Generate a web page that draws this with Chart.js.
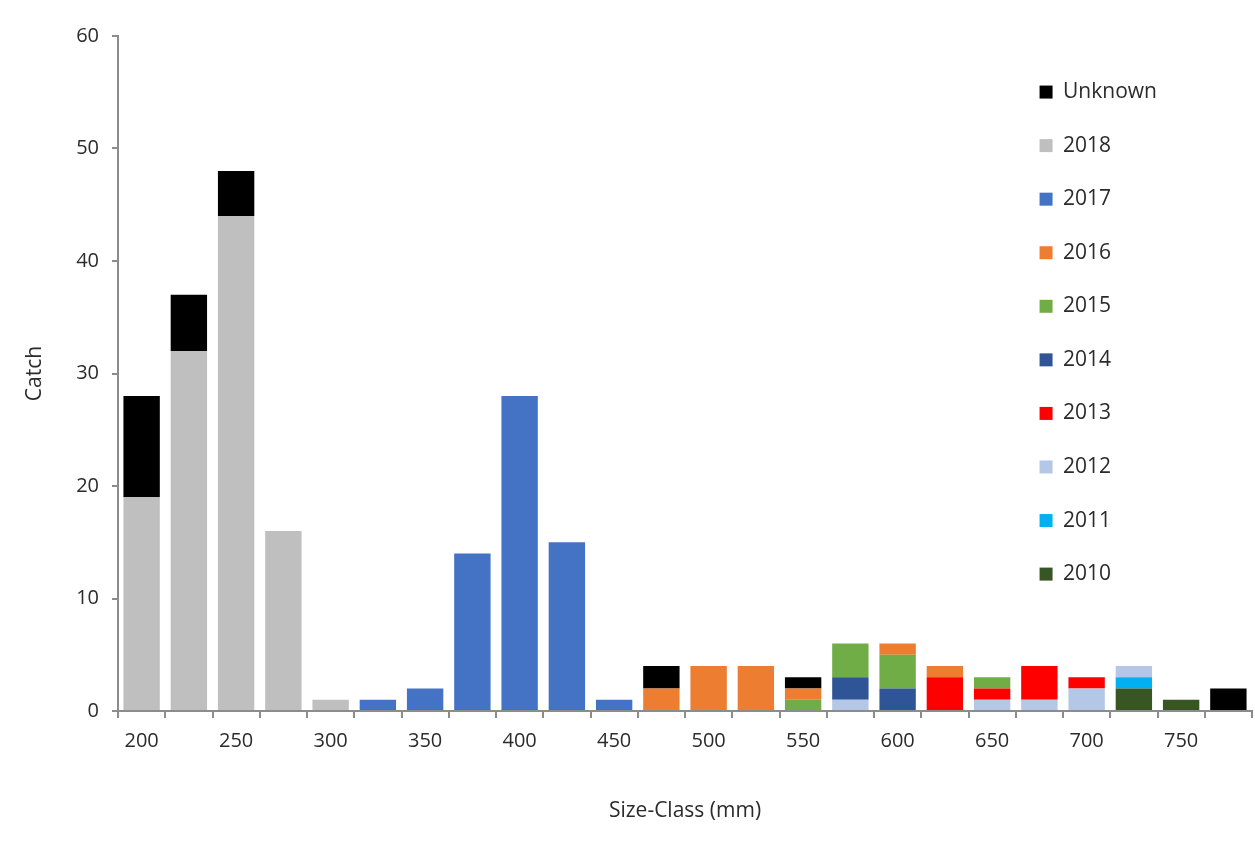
<!DOCTYPE html>
<html>
<head>
<meta charset="utf-8">
<title>Catch by Size-Class</title>
<script src="https://cdn.jsdelivr.net/npm/chart.js@4/dist/chart.umd.min.js"></script>
<style>
  html, body { margin: 0; padding: 0; background: #ffffff; }
  #wrap { width: 1255px; height: 858px; position: relative; }
</style>
</head>
<body>
<div id="wrap"><canvas id="chart"></canvas></div>
<script>
// ---- Data ----
const sizeClasses = ['200','225','250','275','300','325','350','375','400','425','450','475',
                     '500','525','550','575','600','625','650','675','700','725','750','775'];
const tickLabels = ['200','250','300','350','400','450','500','550','600','650','700','750'];
const yTicks = [0, 10, 20, 30, 40, 50, 60];

const y2010    = [0,0,0,0,0,0,0,0,0,0,0,0,0,0,0,0,0,0,0,0,0,2,1,0];
const y2011    = [0,0,0,0,0,0,0,0,0,0,0,0,0,0,0,0,0,0,0,0,0,1,0,0];
const y2012    = [0,0,0,0,0,0,0,0,0,0,0,0,0,0,0,1,0,0,1,1,2,1,0,0];
const y2013    = [0,0,0,0,0,0,0,0,0,0,0,0,0,0,0,0,0,3,1,3,1,0,0,0];
const y2014    = [0,0,0,0,0,0,0,0,0,0,0,0,0,0,0,2,2,0,0,0,0,0,0,0];
const y2015    = [0,0,0,0,0,0,0,0,0,0,0,0,0,0,1,3,3,0,1,0,0,0,0,0];
const y2016    = [0,0,0,0,0,0,0,0,0,0,0,2,4,4,1,0,1,1,0,0,0,0,0,0];
const y2017    = [0,0,0,0,0,1,2,14,28,15,1,0,0,0,0,0,0,0,0,0,0,0,0,0];
const y2018    = [19,32,44,16,1,0,0,0,0,0,0,0,0,0,0,0,0,0,0,0,0,0,0,0];
const yUnknown = [9,5,4,0,0,0,0,0,0,0,0,2,0,0,1,0,0,0,0,0,0,0,0,2];

const seriesNames  = ['2010','2011','2012','2013','2014','2015','2016','2017','2018','Unknown'];
const seriesValues = [y2010, y2011, y2012, y2013, y2014, y2015, y2016, y2017, y2018, yUnknown];
const seriesColors = ['#375623','#00B0F0','#B4C7E7','#FF0000','#2F5597','#70AD47','#ED7D31','#4472C4','#BFBFBF','#000000'];

// ---- Styling ----
const FONT = '"Open Sans", Lato, sans-serif';
const TEXT = '#2b2b2b';
const AXIS = '#8c8c8c';
const LEGEND_LEFT = 1007;
const LEGEND_TOP = 49;

const datasets = seriesNames.map((name, i) => ({
  label: name,
  data: seriesValues[i],
  backgroundColor: seriesColors[i],
  borderWidth: 0,
  categoryPercentage: 1.0,
  barPercentage: 0.77,
  stack: 'catch'
}));

// Place the (overlaid) legend in the upper-right part of the plot area, as in the reference.
const legendPlacer = {
  id: 'legendPlacer',
  afterLayout(chart) {
    const lg = chart.legend;
    if (!lg) return;
    const w = lg.width;
    lg.left = LEGEND_LEFT;
    lg.right = LEGEND_LEFT + w;
    lg.top = LEGEND_TOP;
    lg.height = 650;
    lg.bottom = LEGEND_TOP + 650;
  }
};

new Chart(document.getElementById('chart'), {
  type: 'bar',
  data: { labels: sizeClasses, datasets },
  plugins: [legendPlacer],
  options: {
    responsive: true,
    maintainAspectRatio: false,
    animation: false,
    layout: { padding: { left: 0, top: 36, right: 3, bottom: 0 } },
    plugins: {
      tooltip: { enabled: false },
      legend: {
        display: true,
        position: 'chartArea',
        align: 'start',
        reverse: true,
        labels: {
          boxWidth: 13,
          boxHeight: 13,
          padding: 32.56,
          color: TEXT,
          font: { family: FONT, size: 21 }
        }
      }
    },
    scales: {
      x: {
        stacked: true,
        offset: true,
        afterFit(scale) { scale.height = 147; },
        border: { display: true, color: AXIS, width: 2 },
        grid: { display: true, offset: true, drawOnChartArea: false, drawTicks: true, tickLength: 7, color: AXIS, lineWidth: 2 },
        ticks: {
          autoSkip: false, maxRotation: 0, minRotation: 0, padding: 11,
          color: TEXT, font: { family: FONT, size: 20 },
          callback(value) {
            const lab = this.getLabelForValue(value);
            return tickLabels.includes(lab) ? lab : '';
          }
        },
        title: {
          display: true, text: 'Size-Class (mm)', color: TEXT,
          font: { family: FONT, size: 21 }, padding: { top: 0, bottom: 34 }
        }
      },
      y: {
        stacked: true,
        min: 0, max: 60,
        afterFit(scale) { scale.width = 118; },
        afterBuildTicks(scale) { scale.ticks = yTicks.map(v => ({ value: v })); },
        border: { display: true, color: AXIS, width: 2 },
        grid: { display: true, drawOnChartArea: false, drawTicks: true, tickLength: 6, color: AXIS, lineWidth: 2 },
        ticks: { padding: 13, color: TEXT, font: { family: FONT, size: 20 } },
        title: {
          display: true, text: 'Catch', color: TEXT,
          font: { family: FONT, size: 21 }, padding: { top: 22, bottom: 0 }
        }
      }
    }
  }
});
</script>
</body>
</html>
